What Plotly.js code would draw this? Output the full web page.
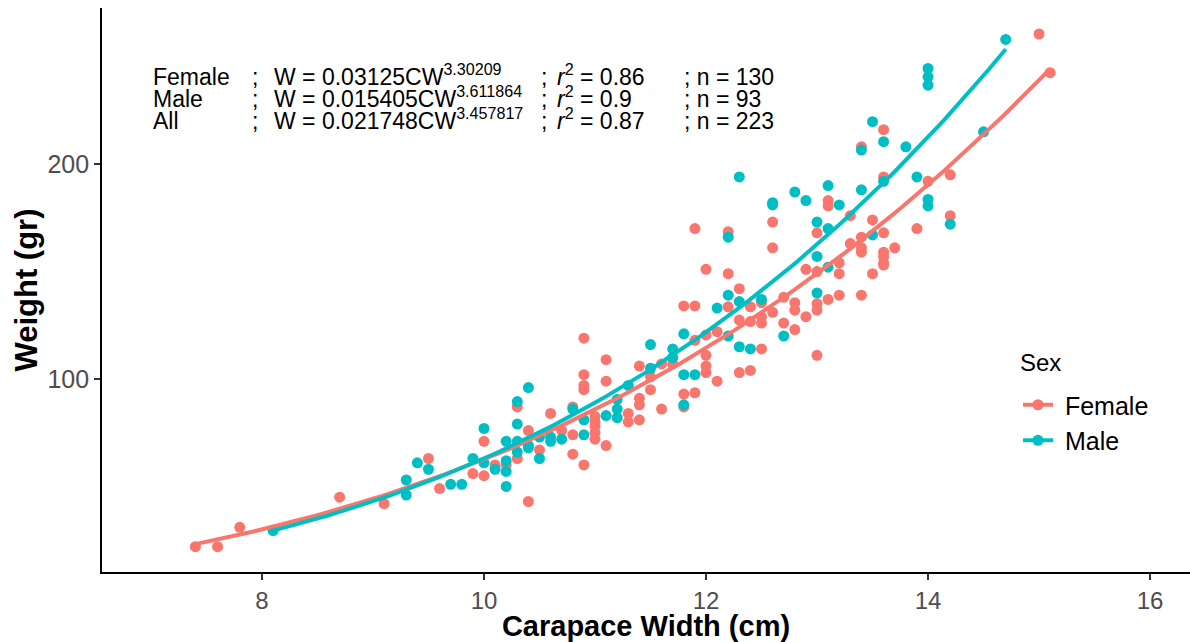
<!DOCTYPE html>
<html>
<head>
<meta charset="utf-8">
<script src="https://cdn.plot.ly/plotly-3.0.1.min.js"></script>
<style>html,body{margin:0;padding:0;background:#fff;}#chart{width:1190px;height:642px;}</style>
</head>
<body>
<div id="chart"></div>
<script>
// ---- Data ----
var femaleCW = [7.4,7.6,7.8,8.7,9.1,9.5,9.6,9.9,10.0,10.0,10.1,10.2,10.3,10.3,10.4,10.4,10.5,10.6,10.7,10.8,
  10.8,10.8,10.9,10.9,10.9,10.9,10.9,11.0,11.0,11.0,11.0,11.0,11.1,11.1,11.1,11.3,11.3,11.4,11.4,11.4,
  11.4,11.5,11.5,11.6,11.6,11.7,11.8,11.8,11.8,11.9,12.2,12.6,12.6,13.1,13.1,13.0,13.3,13.5,13.6,12.0,
  12.2,12.9,13.0,13.2,13.2,13.3,13.4,13.4,13.4,13.5,13.6,13.6,12.3,11.9,12.2,12.4,12.5,12.7,12.8,12.8,
  13.0,13.0,13.1,13.2,13.4,12.3,12.4,12.5,12.5,12.6,12.7,12.8,12.9,12.1,12.0,11.9,12.0,12.0,12.0,12.1,
  12.3,12.4,12.5,13.0,11.9,15.0,15.1,13.6,13.4,14.0,14.2,14.2,13.9,13.7,13.6,13.6,13.6];
var femaleW = [22,22,31,45,42,63,49,56,71,55,60,60,63,87,76,43,67,84,76,74,
  65,87,119,102,97,95,60,82.5,80,78,75,72,109,99,69,84,80,106,91,88,
  81,101,95,86,107,107,134,93,87,170,168.5,173,161,183,180.5,168,176,174,194,151,
  149,151,150,154,149,163,166,161,159,149,154,159,142,134,133.6,133.6,135.5,138,135.5,132,
  135,132,137,139,139,127.4,126.7,129,126,131,126,123,129,122,120.5,118,111,106,103,99,
  103,104,114,111,93.6,260.5,242.5,216,208,192,195,176,170,161,168,157,153];

var maleCW = [8.1,9.3,9.3,9.4,9.5,9.7,9.8,9.9,10.0,10.0,10.1,10.2,10.2,10.2,10.2,10.3,10.3,10.3,10.3,10.4,
  10.4,10.4,10.5,10.5,10.6,10.6,10.7,10.8,10.9,10.9,11.1,11.2,11.2,11.2,11.3,11.5,11.5,11.7,11.8,11.8,
  11.8,11.7,11.9,12.3,12.6,12.6,12.8,12.9,13.1,13.2,13.4,12.2,13.0,13.1,13.0,13.1,13.0,13.5,12.2,12.3,
  12.5,12.1,12.2,12.3,12.4,12.7,14.7,14.0,14.0,14.0,13.5,13.6,13.4,13.8,13.9,13.6,14.5,14.0,14.0,14.2];
var maleW = [29.5,53,46,61,58,51,51,63,77,61,58,71,62,57,50,89.5,79,71,66,96,
  69,68,63,73,73,71,72,86,81,74,83,86,82,90.5,97,116,105,114,121,102,
  88,110,102,194,182,181,187,183,190,181,188,166,173,170,157,152,140,167,139,136,
  137,133,120,115,114,120,258,244.5,240.6,236.7,219.7,210.4,206.5,208,194,192,215,183.5,180.5,172];

// Fitted length-weight models shown on the chart: W = a * CW^b
var femaleFit = {a: 0.03125, b: 3.30209, from: 7.4, to: 15.1};
var maleFit = {a: 0.015405, b: 3.611864, from: 8.1, to: 14.7};

var seriesNames = ['Female', 'Male'];
var seriesColors = ['#F8766D', '#00BFC4'];
var legendTitle = 'Sex';

var eqRows = [
  ['Female', 'W = 0.03125CW<sup>3.30209</sup>', '<i>r</i><sup>2</sup> = 0.86', '; n = 130'],
  ['Male', 'W = 0.015405CW<sup>3.611864</sup>', '<i>r</i><sup>2</sup> = 0.9', '; n = 93'],
  ['All', 'W = 0.021748CW<sup>3.457817</sup>', '<i>r</i><sup>2</sup> = 0.87', '; n = 223']
];

function curve(fit) {
  var xs = [], ys = [];
  var n = 120;
  for (var i = 0; i <= n; i++) {
    var x = fit.from + (fit.to - fit.from) * i / n;
    xs.push(x);
    ys.push(fit.a * Math.pow(x, fit.b));
  }
  return {x: xs, y: ys};
}
var fC = curve(femaleFit), mC = curve(maleFit);

var MS = 11;
var traces = [
  {x: femaleCW, y: femaleW, mode: 'markers', type: 'scatter', showlegend: false,
   marker: {color: seriesColors[0], size: MS, line: {width: 0}}, hoverinfo: 'x+y'},
  {x: maleCW, y: maleW, mode: 'markers', type: 'scatter', showlegend: false,
   marker: {color: seriesColors[1], size: MS, line: {width: 0}}, hoverinfo: 'x+y'},
  {x: fC.x, y: fC.y, mode: 'lines', type: 'scatter', showlegend: false,
   line: {color: seriesColors[0], width: 4}},
  {x: mC.x, y: mC.y, mode: 'lines', type: 'scatter', showlegend: false,
   line: {color: seriesColors[1], width: 4}},
  {x: [null], y: [null], mode: 'lines+markers', type: 'scatter', name: '\u00a0' + seriesNames[0], legendgroup: 'f',
   line: {color: seriesColors[0], width: 4}, marker: {color: seriesColors[0], size: MS}},
  {x: [null], y: [null], mode: 'lines+markers', type: 'scatter', name: '\u00a0' + seriesNames[1], legendgroup: 'm',
   line: {color: seriesColors[1], width: 4}, marker: {color: seriesColors[1], size: MS}}
];

// annotation layout helpers (pixel positions converted to paper fractions)
var L = 102, R = 0, T = 8, B = 70, W = 1190, H = 642;
var pw = W - L - R, ph = H - T - B;
function px(x) { return (x - L) / pw; }
function py(y) { return (H - B - y) / ph; }

var colX = [152, 251, 273, 540, 556, 683];
var rowBottom = [91, 113, 135];
var annFont = {family: 'Liberation Sans, Arial, sans-serif', size: 23, color: '#000'};
var annotations = [];
eqRows.forEach(function (row, i) {
  var cells = [row[0], ';', row[1], ';', row[2], row[3]];
  cells.forEach(function (txt, j) {
    annotations.push({xref: 'paper', yref: 'paper', x: px(colX[j]), y: py(rowBottom[i]),
      xanchor: 'left', yanchor: 'bottom', showarrow: false, text: txt, font: annFont,
      borderpad: 0});
  });
});
annotations.push({xref: 'paper', yref: 'paper', x: px(1019), y: py(363), xanchor: 'left', yanchor: 'middle',
  showarrow: false, text: legendTitle, borderpad: 0,
  font: {family: 'Liberation Sans, Arial, sans-serif', size: 24, color: '#000'}});

var layout = {
  width: W, height: H,
  margin: {l: L, r: R, t: T, b: B, pad: 0},
  paper_bgcolor: '#fff', plot_bgcolor: '#fff',
  font: {family: 'Liberation Sans, Arial, sans-serif', color: '#000'},
  showlegend: true,
  xaxis: {
    range: [6.559, 16.36], tickvals: [8, 10, 12, 14, 16], ticktext: ['8', '10', '12', '14', '16'],
    showgrid: false, zeroline: false, showline: true, linecolor: '#000', linewidth: 1.8,
    ticks: 'outside', ticklen: 6, tickwidth: 1.5, tickcolor: '#333',
    tickfont: {size: 24, color: '#4d4d4d'},
    title: {text: '<b>Carapace Width (cm)</b>', font: {size: 29, color: '#000'}, standoff: 2},
    automargin: false
  },
  yaxis: {
    range: [10.2, 272.6], tickvals: [100, 200], ticktext: ['100', '200'],
    showgrid: false, zeroline: false, showline: true, linecolor: '#000', linewidth: 1.8,
    ticks: 'outside', ticklen: 6, tickwidth: 1.5, tickcolor: '#333',
    tickfont: {size: 25, color: '#4d4d4d'},
    title: {text: '<b>Weight (gr)</b>', font: {size: 31, color: '#000'}, standoff: 1},
    automargin: false
  },
  legend: {
    x: px(1018), y: py(382), xanchor: 'left', yanchor: 'top',
    bgcolor: 'rgba(0,0,0,0)', borderwidth: 0,
    font: {size: 25, color: '#000'},
    traceorder: 'normal', tracegroupgap: 5, itemwidth: 30
  },
  annotations: annotations
};

Plotly.newPlot('chart', traces, layout, {displayModeBar: false, staticPlot: true});
</script>
</body>
</html>
